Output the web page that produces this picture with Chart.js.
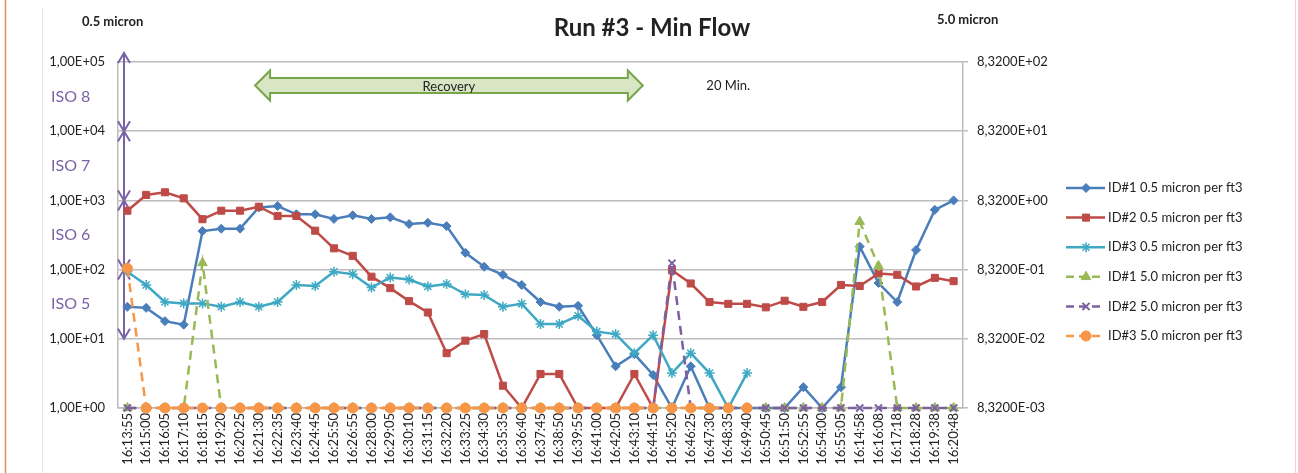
<!DOCTYPE html>
<html><head><meta charset="utf-8">
<script src="https://cdn.jsdelivr.net/npm/chart.js@4.4.1/dist/chart.umd.min.js"></script>
<style>html,body{margin:0;padding:0;background:#fff;overflow:hidden}#wrap{width:1298px;height:473px;position:relative}</style>
</head><body><div id="wrap"><canvas id="c" width="1298" height="473"></canvas></div>
<script>
const categories = ['16:13:55','16:15:00','16:16:05','16:17:10','16:18:15','16:19:20','16:20:25','16:21:30','16:22:35','16:23:40','16:24:45','16:25:50','16:26:55','16:28:00','16:29:05','16:30:10','16:31:15','16:32:20','16:33:25','16:34:30','16:35:35','16:36:40','16:37:45','16:38:50','16:39:55','16:41:00','16:42:05','16:43:10','16:44:15','16:45:20','16:46:25','16:47:30','16:48:35','16:49:40','16:50:45','16:51:50','16:52:55','16:54:00','16:55:05','16:14:58','16:16:08','16:17:18','16:18:28','16:19:38','16:20:48'];
// values at the bottom of the axes are read as the axis minimum (1 on the left, 0.00832 on the right)
const id1_05 = [29,28,18,16,360,390,390,790,830,630,630,540,610,540,570,455,475,425,175,110,84,60,34,29,30,11.3,4,6,3,1,4,1,1,1,1,1,2,1,2,215,64,34,192,730,1000];
const id2_05 = [710,1200,1310,1070,535,710,710,810,595,595,365,203,158,79,54,35,24,6.2,9.4,11.7,2.1,1,3.1,3.1,1,1,1,3.1,1,98,63,34,32,32,28.5,35.5,29,34,60,58,88,84,57,76,68];
const id3_05 = [93,60,34,32.5,32.5,29,34,29,34,60,58,93,86,55,77,72,57,62,44,43,29,32,16.3,16.3,21.5,12.7,11.7,6.2,11.3,3.2,6.2,3.2,1,3.2,null,null,null,null,null,null,null,null,null,null,null];
const id1_50 = [0.00832,0.00832,0.00832,0.00832,1.04,0.00832,0.00832,0.00832,0.00832,0.00832,0.00832,0.00832,0.00832,0.00832,0.00832,0.00832,0.00832,0.00832,0.00832,0.00832,0.00832,0.00832,0.00832,0.00832,0.00832,0.00832,0.00832,0.00832,0.00832,0.00832,0.00832,0.00832,0.00832,0.00832,0.00832,0.00832,0.00832,0.00832,0.00832,4.1,0.94,0.00832,0.00832,0.00832,0.00832];
const id2_50 = [0.00832,0.00832,0.00832,0.00832,0.00832,0.00832,0.00832,0.00832,0.00832,0.00832,0.00832,0.00832,0.00832,0.00832,0.00832,0.00832,0.00832,0.00832,0.00832,0.00832,0.00832,0.00832,0.00832,0.00832,0.00832,0.00832,0.00832,0.00832,0.00832,1.03,0.00832,0.00832,0.00832,0.00832,0.00832,0.00832,0.00832,0.00832,0.00832,0.00832,0.00832,0.00832,0.00832,0.00832,0.00832];
const id3_50 = [0.87,0.00832,0.00832,0.00832,0.00832,0.00832,0.00832,0.00832,0.00832,0.00832,0.00832,0.00832,0.00832,0.00832,0.00832,0.00832,0.00832,0.00832,0.00832,0.00832,0.00832,0.00832,0.00832,0.00832,0.00832,0.00832,0.00832,0.00832,0.00832,0.00832,0.00832,0.00832,0.00832,0.00832,null,null,null,null,null,null,null,null,null,null,null];
const seriesNames = ['ID#1 0.5 micron per ft3','ID#2 0.5 micron per ft3','ID#3 0.5 micron per ft3','ID#1 5.0 micron per ft3','ID#2 5.0 micron per ft3','ID#3 5.0 micron per ft3'];
const leftTickValues = [1,10,100,1000,10000,100000];
const leftTickLabels = ['1,00E+00','1,00E+01','1,00E+02','1,00E+03','1,00E+04','1,00E+05'];
const rightTickValues = [0.00832,0.0832,0.832,8.32,83.2,832];
const rightTickLabels = ['8,3200E-03','8,3200E-02','8,3200E-01','8,3200E+00','8,3200E+01','8,3200E+02'];
const isoLabels = ['ISO 5','ISO 6','ISO 7','ISO 8'];
const titleText = 'Run #3 - Min Flow';

const FONT = "Lato, 'Open Sans', sans-serif";
const GRID = '#bcbcbc';
const TXT = '#222';
const PURPLE = '#7a62a6';

function ds(i, data, color, style, radius, axis, dashed, bw) {
  return {label: seriesNames[i], data, borderColor: color, backgroundColor: color,
    pointBackgroundColor: color, pointBorderColor: color, pointStyle: style,
    pointRadius: radius, pointBorderWidth: bw, borderWidth: 2.5,
    borderDash: dashed ? [9, 6] : [], yAxisID: axis, tension: 0, clip: false,
    order: 10 - i, spanGaps: false};
}
const datasets = [
  ds(0, id1_05, '#4a7ebb', 'rectRot', 4.5, 'y', false, 1),
  ds(1, id2_05, '#be4b48', 'rect', 5, 'y', false, 1),
  ds(2, id3_05, '#3fa9c4', 'star', 5, 'y', false, 1.5),
  ds(3, id1_50, '#98b954', 'triangle', 5.5, 'y2', true, 1),
  ds(4, id2_50, '#7d60a0', 'crossRot', 5, 'y2', true, 2),
  ds(5, id3_50, '#f79646', 'circle', 5, 'y2', true, 1)
];

function vArrowHead(ctx, x, y, dir) {
  ctx.beginPath();
  ctx.moveTo(x - 6, y - dir * 10);
  ctx.lineTo(x, y);
  ctx.lineTo(x + 6, y - dir * 10);
  ctx.stroke();
}

const annot = {
  id: 'annot',
  beforeDraw(chart) {
    const ctx = chart.ctx;
    ctx.save();
    ctx.fillStyle = '#fff';
    ctx.fillRect(0, 0, chart.width, chart.height);
    ctx.strokeStyle = '#e8875a'; ctx.lineWidth = 1.5;
    ctx.beginPath(); ctx.moveTo(5.5, 0); ctx.lineTo(5.5, chart.height); ctx.stroke();
    ctx.strokeStyle = '#f0d4cc'; ctx.lineWidth = 1;
    ctx.beginPath(); ctx.moveTo(1295.5, 0); ctx.lineTo(1295.5, chart.height); ctx.stroke();
    ctx.strokeStyle = '#e6e6e6';
    ctx.beginPath(); ctx.moveTo(42.5, 8); ctx.lineTo(42.5, chart.height); ctx.stroke();
    ctx.restore();
  },
  beforeDatasetsDraw(chart) {
    const ctx = chart.ctx, y = chart.scales.y, x = chart.scales.x;
    const ax = chart.chartArea.left + 6;
    ctx.save();
    ctx.strokeStyle = PURPLE; ctx.lineWidth = 2;
    for (let k = 1; k <= 4; k++) {
      let yTop = y.getPixelForValue(Math.pow(10, k + 1));
      const yBot = y.getPixelForValue(Math.pow(10, k));
      if (k === 4) yTop -= 9;
      ctx.beginPath(); ctx.moveTo(ax, yTop); ctx.lineTo(ax, yBot); ctx.stroke();
      vArrowHead(ctx, ax, yTop, -1);
      vArrowHead(ctx, ax, yBot, 1);
    }
    // Recovery arrow
    const p0 = x.getPixelForValue(0), step = x.getPixelForValue(1) - p0;
    const x1 = p0 + 6.8 * step, x2 = p0 + 27.45 * step;
    const yc = y.getPixelForValue(Math.pow(10, 4.66));
    const sh = 15, hh = 30, hl = 15;
    ctx.beginPath();
    ctx.moveTo(x1, yc);
    ctx.lineTo(x1 + hl, yc - hh / 2);
    ctx.lineTo(x1 + hl, yc - sh / 2);
    ctx.lineTo(x2 - hl, yc - sh / 2);
    ctx.lineTo(x2 - hl, yc - hh / 2);
    ctx.lineTo(x2, yc);
    ctx.lineTo(x2 - hl, yc + hh / 2);
    ctx.lineTo(x2 - hl, yc + sh / 2);
    ctx.lineTo(x1 + hl, yc + sh / 2);
    ctx.lineTo(x1 + hl, yc + hh / 2);
    ctx.closePath();
    ctx.fillStyle = '#d8e6c4'; ctx.fill();
    ctx.strokeStyle = '#78a44a'; ctx.lineWidth = 2; ctx.stroke();
    ctx.fillStyle = TXT; ctx.font = '13px ' + FONT;
    ctx.textAlign = 'center'; ctx.textBaseline = 'middle';
    ctx.fillText('Recovery', (x1 + x2) / 2, yc + 1);
    ctx.fillText('20 Min.', x.getPixelForValue(32), yc);
    ctx.restore();
  },
  afterDraw(chart) {
    const ctx = chart.ctx, y = chart.scales.y;
    ctx.save();
    ctx.fillStyle = TXT; ctx.textBaseline = 'middle';
    ctx.font = 'bold 24px ' + FONT; ctx.textAlign = 'center';
    ctx.fillText(titleText, 652, 28);
    ctx.font = 'bold 13px ' + FONT; ctx.textAlign = 'left';
    ctx.fillText('0.5 micron', 82, 22);
    ctx.fillText('5.0 micron', 937, 20);
    ctx.fillStyle = PURPLE; ctx.font = '16px ' + FONT;
    for (let k = 1; k <= 4; k++) {
      const ym = (y.getPixelForValue(Math.pow(10, k + 1)) + y.getPixelForValue(Math.pow(10, k))) / 2;
      ctx.fillText(isoLabels[k - 1], 51, ym);
    }
    // legend
    const lx = 1066, ly0 = 188, dy = 29.6;
    chart.data.datasets.forEach((d, i) => {
      const yy = ly0 + i * dy;
      ctx.save();
      ctx.strokeStyle = d.borderColor; ctx.lineWidth = 2.5;
      ctx.setLineDash(d.borderDash.length ? [8, 5] : []);
      ctx.beginPath(); ctx.moveTo(lx, yy); ctx.lineTo(lx + 39, yy); ctx.stroke();
      ctx.setLineDash([]);
      ctx.fillStyle = d.pointBackgroundColor; ctx.strokeStyle = d.pointBorderColor;
      ctx.lineWidth = d.pointBorderWidth;
      Chart.helpers.drawPoint(ctx, {pointStyle: d.pointStyle, radius: d.pointRadius, rotation: 0, borderWidth: d.pointBorderWidth}, lx + 20, yy);
      ctx.restore();
      ctx.fillStyle = TXT; ctx.font = '13px ' + FONT; ctx.textAlign = 'left'; ctx.textBaseline = 'middle';
      ctx.fillText(d.label, 1108, yy);
    });
    ctx.restore();
  }
};

new Chart(document.getElementById('c'), {
  type: 'line',
  data: {labels: categories, datasets},
  plugins: [annot],
  options: {
    responsive: false, animation: false,
    layout: {padding: {top: 62, left: 0, right: 0, bottom: 0}},
    plugins: {legend: {display: false}, tooltip: {enabled: false}, title: {display: false}},
    scales: {
      x: {type: 'category', offset: true,
        grid: {display: false, drawTicks: false},
        border: {display: true, color: GRID, width: 1.5},
        ticks: {autoSkip: false, maxRotation: 90, minRotation: 90, padding: 5, color: TXT, font: {family: FONT, size: 13}},
        afterFit: s => { s.height = 65; }},
      y: {type: 'logarithmic', position: 'left', min: 1, max: 100000, bounds: 'data',
        afterBuildTicks: s => { s.ticks = leftTickValues.map(v => ({value: v})); },
        ticks: {callback: (v, i) => leftTickLabels[i], padding: 13, color: TXT, font: {family: FONT, size: 13}},
        grid: {color: GRID, lineWidth: 1.5, drawTicks: false},
        border: {color: GRID, width: 1.5},
        afterFit: s => { s.width = 118; }},
      y2: {type: 'logarithmic', position: 'right', min: 0.00832, max: 832, bounds: 'data',
        afterBuildTicks: s => { s.ticks = rightTickValues.map(v => ({value: v})); },
        ticks: {callback: (v, i) => rightTickLabels[i], padding: 9, color: TXT, font: {family: FONT, size: 13}},
        grid: {drawOnChartArea: false, color: GRID, lineWidth: 1.5, tickLength: 5},
        border: {color: GRID, width: 1.5},
        afterFit: s => { s.width = 335; }}
    }
  }
});
</script></body></html>
